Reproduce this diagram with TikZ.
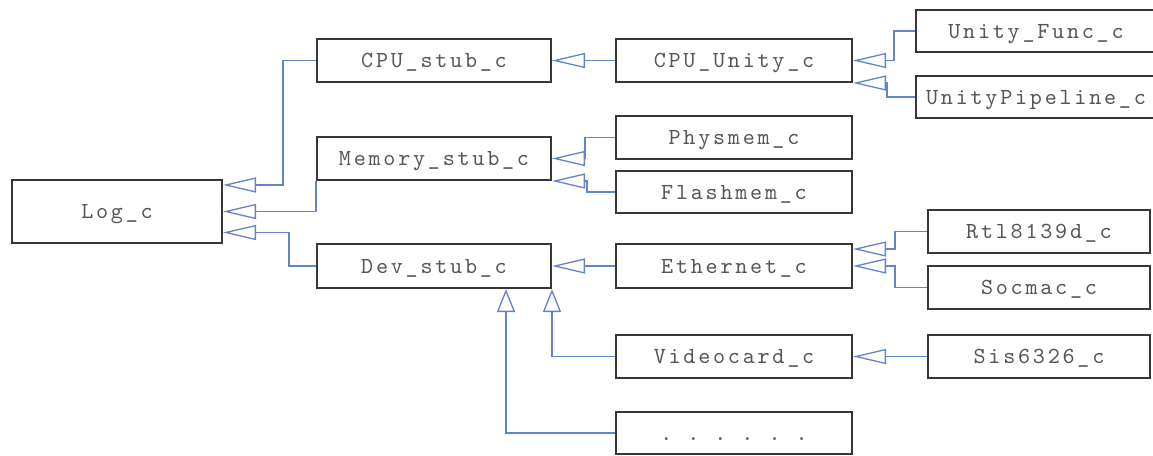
\documentclass[tikz,border=0pt]{standalone}
\usepackage{fontspec}
\usetikzlibrary{arrows.meta}
\newfontfamily\boxfont{lmmono10-regular.otf}[LetterSpace=12]
\definecolor{boxline}{RGB}{55,55,55}
\definecolor{boxtext}{RGB}{85,85,85}
\definecolor{conn}{RGB}{100,132,200}
\tikzset{
  cls/.style={draw=boxline, line width=2pt, fill=white, text=boxtext,
    inner sep=0pt, minimum height=43pt, text height=18pt, text depth=4pt,
    font={\boxfont\fontsize{23}{26}\selectfont}},
  inhH/.style={draw=conn, line width=1.5pt,
    -{Triangle[open, length=33pt, width=15pt, line width=1.3pt]}},
  inhV/.style={draw=conn, line width=1.5pt,
    -{Triangle[open, length=23pt, width=18pt, line width=1.3pt]}},
}
\begin{document}
\begin{tikzpicture}[x=1pt, y=-1pt]
\useasboundingbox (0,0) rectangle (1153,455);
\fill[white] (0,0) rectangle (1153,455);
% nodes
\node[cls, minimum width=210pt, minimum height=63pt] (log) at (117,211.5) {Log\_c};
\node[cls, minimum width=234pt] (cpustub) at (434,60.5) {CPU\_stub\_c};
\node[cls, minimum width=234pt] (memstub) at (434,158.5) {Memory\_stub\_c};
\node[cls, minimum width=234pt, minimum height=44pt] (devstub) at (434,266) {Dev\_stub\_c};
\node[cls, minimum width=236pt] (cpuunity) at (734,60.5) {CPU\_Unity\_c};
\node[cls, minimum width=236pt] (physmem) at (734,137.5) {Physmem\_c};
\node[cls, minimum width=236pt, minimum height=42pt] (flashmem) at (734,192) {Flashmem\_c};
\node[cls, minimum width=236pt, minimum height=44pt] (ethernet) at (734,266) {Ethernet\_c};
\node[cls, minimum width=236pt] (videocard) at (734,356.5) {Videocard\_c};
\node[cls, minimum width=236pt, minimum height=42pt] (dots) at (734,433) {.\kern15pt.\kern15pt.\kern15pt.\kern15pt.\kern15pt.};
\node[cls, minimum width=240pt, minimum height=42pt] (unityfunc) at (1036,31) {Unity\_Func\_c};
\node[cls, minimum width=240pt, minimum height=42pt] (unitypipe) at (1036,97) {UnityPipeline\_c};
\node[cls, minimum width=222pt] (rtl) at (1039,231.5) {Rtl8139d\_c};
\node[cls, minimum width=222pt] (socmac) at (1039,287.5) {Socmac\_c};
\node[cls, minimum width=222pt] (sis) at (1039,356.5) {Sis6326\_c};
% connectors to Log_c
\draw[inhH] (cpustub.west) -| (283,185) -- ([yshift=26.5pt]log.east);
\draw[inhH] (memstub.south west) |- (log.east);
\draw[inhH] (devstub.west) -| (289,232.5) -- ([yshift=-21pt]log.east);
% CPU branch
\draw[inhH] (cpuunity.west) -- (cpustub.east);
\draw[inhH] (unityfunc.west) -| ([xshift=41pt]cpuunity.east) -- (cpuunity.east);
\draw[inhH] (unitypipe.west) -| ([xshift=34pt]cpuunity.south east) -- (cpuunity.south east);
% Memory branch
\draw[inhH] (physmem.west) -| ([xshift=33pt]memstub.east) -- (memstub.east);
\draw[inhH] (flashmem.west) -| ([xshift=35pt]memstub.south east) -- (memstub.south east);
% Dev branch
\draw[inhH] (ethernet.west) -- (devstub.east);
\draw[inhH] (rtl.west) -| ([xshift=42pt,yshift=17pt]ethernet.east) -- ([yshift=17pt]ethernet.east);
\draw[inhH] (socmac.west) -| ([xshift=42pt]ethernet.east) -- (ethernet.east);
\draw[inhH] (sis.west) -- (videocard.east);
\draw[inhV] (videocard.west) -| (devstub.south east);
\draw[inhV] (dots.west) -| ([xshift=-46pt]devstub.south east);
\end{tikzpicture}
\end{document}
